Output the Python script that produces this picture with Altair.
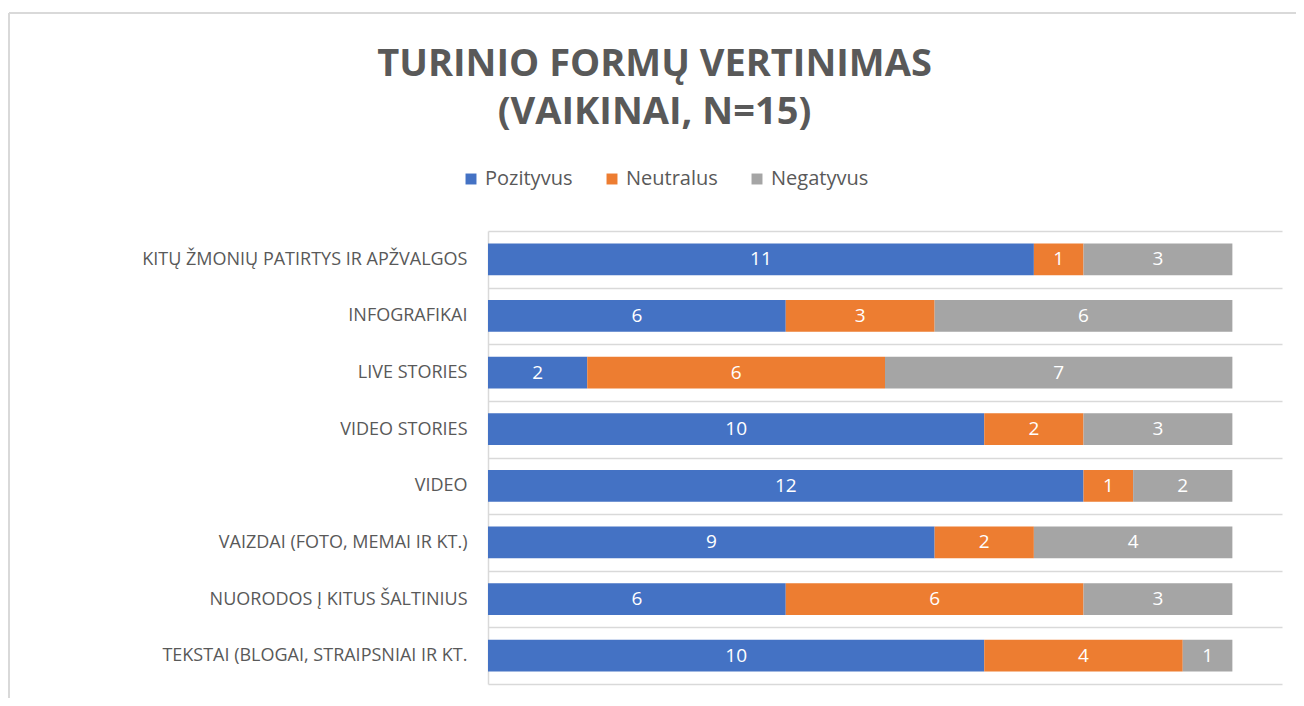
import altair as alt
import pandas as pd

categories = [
    "KITŲ ŽMONIŲ PATIRTYS IR APŽVALGOS",
    "INFOGRAFIKAI",
    "LIVE STORIES",
    "VIDEO STORIES",
    "VIDEO",
    "VAIZDAI (FOTO, MEMAI IR KT.)",
    "NUORODOS Į KITUS ŠALTINIUS",
    "TEKSTAI (BLOGAI, STRAIPSNIAI IR KT.",
]
series = ["Pozityvus", "Neutralus", "Negatyvus"]
pozityvus = [11, 6, 2, 10, 12, 9, 6, 10]
neutralus = [1, 3, 6, 2, 1, 2, 6, 4]
negatyvus = [3, 6, 7, 3, 2, 4, 3, 1]
colors = ["#4472C4", "#ED7D31", "#A5A5A5"]

rows = []
for i, c in enumerate(categories):
    for j, (s, vals) in enumerate(zip(series, [pozityvus, neutralus, negatyvus])):
        rows.append({"category": c, "series": s, "value": vals[i], "order": j})
df = pd.DataFrame(rows)

FONT = "Open Sans"
GREY = "#595959"
LINE = "#D9D9D9"

base = alt.Chart(df).transform_stack(
    stack="value", groupby=["category"], sort=[alt.SortField("order")], as_=["x0", "x1"]
).transform_calculate(mid="(datum.x0 + datum.x1) / 2")

yenc = alt.Y(
    "category:N",
    sort=categories,
    scale=alt.Scale(paddingInner=0, paddingOuter=0),
    axis=alt.Axis(
        title=None,
        tickBand="extent",
        ticks=False,
        grid=True,
        gridColor=LINE,
        gridWidth=1.5,
        domainColor=LINE,
        domainWidth=1.5,
        labelFont=FONT,
        labelFontSize=18,
        labelColor=GREY,
        labelPadding=21,
        labelLimit=600,
    ),
)

bars = base.mark_bar(height=alt.RelativeBandSize(0.56)).encode(
    y=yenc,
    x=alt.X("x0:Q", scale=alt.Scale(domain=[0, 16], nice=False, zero=True), axis=None),
    x2="x1:Q",
    color=alt.Color(
        "series:N",
        scale=alt.Scale(domain=series, range=colors),
        legend=alt.Legend(
            title=None,
            orient="none",
            direction="horizontal",
            legendX=-27,
            legendY=-62,
            symbolType="square",
            symbolSize=120,
            symbolStrokeWidth=0,
            labelFont=FONT,
            labelFontSize=20,
            labelColor=GREY,
            columnPadding=29,
        ),
    ),
)

labels = base.mark_text(color="white", fontSize=19, font=FONT).encode(
    y=alt.Y("category:N", sort=categories),
    x=alt.X("mid:Q"),
    text=alt.Text("value:Q"),
)

frame_data = alt.Data(values=[{"k": 1}])
frame_left = alt.Chart(frame_data).mark_rule(color=LINE, strokeWidth=2).encode(
    x=alt.value(-479), y=alt.value(-218), y2=alt.value(467)
)
frame_top = alt.Chart(frame_data).mark_rule(color=LINE, strokeWidth=2).encode(
    x=alt.value(-479), x2=alt.value(808), y=alt.value(-218)
)

chart = alt.layer(frame_left, frame_top, bars, labels).properties(
    width=794,
    height=453,
    autosize=alt.AutoSizeParams(type="none"),
    padding={"left": 480, "top": 223, "right": 14, "bottom": 14},
    title=alt.Title(
        ["TURINIO FORMŲ VERTINIMAS", "(VAIKINAI, N=15)"],
        font=FONT,
        fontSize=38,
        fontWeight="bold",
        color=GREY,
        lineHeight=48,
        anchor="middle",
        frame="bounds",
        offset=-120,
        dx=2,
    ),
).configure_view(stroke=None)

chart.save("out.html", embed_options={"renderer": "svg", "actions": False})
